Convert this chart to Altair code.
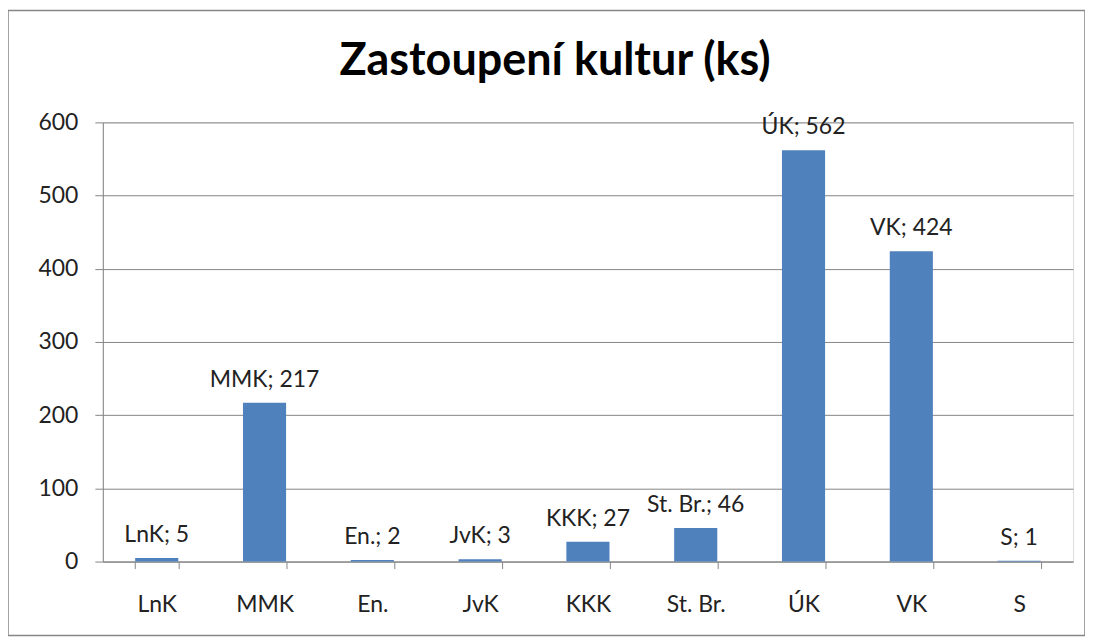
import altair as alt
import pandas as pd

categories = ["LnK", "MMK", "En.", "JvK", "KKK", "St. Br.", "ÚK", "VK", "S"]
values = [5, 217, 2, 3, 27, 46, 562, 424, 1]
labels = [f"{c}; {v}" for c, v in zip(categories, values)]
y_ticks = [0, 100, 200, 300, 400, 500, 600]
title_text = "Zastoupení kultur (ks)"

df = pd.DataFrame({"kultura": categories, "pocet": values, "popisek": labels})

W, H = 972, 440
PL, PT, PR, PB = 95, 114, 12, 80
FONT = "Lato"
GRAY = "#868686"
TXT = "#222222"
FS = 23

x_enc = alt.X(
    "kultura:N", sort=categories, title=None,
    scale=alt.Scale(paddingInner=0.6, paddingOuter=0.3),
    axis=alt.Axis(tickBand="extent", labelAngle=0, labelFontSize=FS, labelFont=FONT,
                  labelColor=TXT, labelPadding=25, tickSize=7, tickColor=GRAY,
                  domainColor=GRAY, grid=False),
)
y_enc = alt.Y(
    "pocet:Q", title=None,
    scale=alt.Scale(domain=[0, 600]),
    axis=alt.Axis(values=y_ticks, grid=True, gridColor=GRAY, tickSize=8, tickColor=GRAY,
                  domainColor=GRAY, labelFontSize=FS, labelFont=FONT, labelColor=TXT,
                  labelPadding=17),
)

base = alt.Chart(df)
bars = base.mark_bar(color="#4F81BD").encode(x=x_enc, y=y_enc)
text = base.mark_text(fontSize=FS, font=FONT, color=TXT, baseline="alphabetic", dy=-16).encode(
    x=alt.X("kultura:N", sort=categories), y="pocet:Q", text="popisek:N"
)

title = alt.Chart(pd.DataFrame({"t": [title_text]})).mark_text(
    fontSize=45, font=FONT, fontWeight="bold", color="#000000", baseline="alphabetic", align="center"
).encode(text="t:N", x=alt.value(453), y=alt.value(-47))

border = alt.Chart(pd.DataFrame({"t": [title_text]})).mark_rect(
    fill=None, filled=False, stroke=GRAY, strokeWidth=1.5, clip=False
).encode(x=alt.value(-95), x2=alt.value(984), y=alt.value(-112), y2=alt.value(514))

chart = alt.layer(bars, text, title, border).properties(
    width=W, height=H,
    padding={"left": PL, "top": PT, "right": PR, "bottom": PB},
    autosize=alt.AutoSizeParams(type="none"),
).configure_view(stroke=None).configure(background="white")

chart.save("out.html", embed_options={"renderer": "svg", "actions": False})
